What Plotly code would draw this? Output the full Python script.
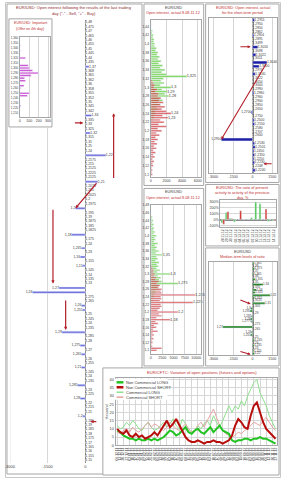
import plotly.graph_objects as go

W, H = 282, 480
FONT = "Liberation Sans"
GRID = "#d6d6d6"
FRAME = "#a6a6a6"
TXT = "#3c3c3c"
RED_T = "#c0302f"
ARROW = "#b3202b"

# ---------------- inset: important levels ----------------
INSET_LEVELS = ["1,360", "1,355", "1,350", "1,345", "1,340", "1,335", "1,330", "1,325",
                "1,320", "1,315", "1,310", "1,305", "1,300", "1,295", "1,290", "1,285",
                "1,280", "1,275", "1,270", "1,265", "1,260", "1,255", "1,250", "1,245",
                "1,240", "1,235", "1,230", "1,225", "1,220", "1,215", "1,210", "1,205"]
INSET_VALUES = [0, 0, 0, 5, 0, 5, 0, 0, 60, 0,
                0, 90, 100, 135, 195, 120, 50, 60, 0, 45,
                8, 0, 100, 80, 0, 0, 0, 10, 0, 0,
                0, 0]
INSET_TICKS = [0, 100, 200, 300]

# ---------------- main: open interest after last day ----------------
MAIN_LEVELS = ["1,48", "1,475", "1,47", "1,465", "1,46", "1,455", "1,45", "1,445", "1,44", "1,435",
               "1,37", "1,368", "1,365", "1,362", "1,36", "1,358", "1,355", "1,352", "1,35", "1,345",
               "1,342", "1,34", "1,335", "1,33", "1,325", "1,32", "1,315", "1,31", "1,25", "1,24",
               "1,22", "1,2175", "1,215", "1,2125", "1,2225", "1,2125", "1,21", "1,2075", "1,205", "1,2025",
               "1,2", "1,1975", "1,2", "1,195", "1,19", "1,1875", "1,185", "1,1825", "1,18", "1,175",
               "1,24", "1,235", "1,23", "1,16", "1,155", "1,15", "1,145", "1,14", "1,135", "1,13",
               "1,27", "1,26", "1,275", "1,265", "1,26", "1,255", "1,25", "1,245", "1,24", "1,235",
               "1,29", "1,285", "1,28", "1,275", "1,27", "1,265", "1,26", "1,255", "1,21", "1,245",
               "1,24", "1,235", "1,285", "1,23", "1,225", "1,28", "1,22", "1,215", "1,21", "1,2",
               "1,195", "1,19", "1,185", "1,18", "1,175", "1,17", "1,165", "1,16", "1,155", "1,15"]
MAIN_VALUES = [0, 0, 0, 0, 0, 0, 0, 0, 0, 0,
               150, 0, 0, 0, 0, 0, 0, 0, 0, 0,
               0, 250, 0, 0, 0, 200, 0, 0, 0, 0,
               820, 0, 0, 0, 0, 0, 500, 0, 0, 0,
               0, 0, -390, 0, 0, 0, 0, 0, -545, 0,
               0, -150, 0, -200, 0, -100, 0, 0, 0, 0,
               -1050, -2100, 0, 0, -150, -100, 0, 0, 0, 0,
               -930, 0, 0, -200, 0, -150, 0, 0, -150, 0,
               0, 0, -300, 0, 0, -200, 0, 0, 0, -100,
               0, 0, 0, 0, 0, 0, 0, 0, 0, 0]
MAIN_TICKS = [-3000, -1500, 0]
# arrows: (x_from, row_from, x_to, row_to)
MAIN_ARROWS = [(1130, 35.5, 1130, 20.5), (-470, 22.7, -80, 22.7), (500, 36, -390, 42),
               (-1285, 42, -1285, 59), (-780, 62.5, -780, 69.5), (500, 90.2, 200, 90.2)]

# ---------------- middle: option open interest ----------------
STRIKES = [1.450, 1.445, 1.440, 1.435, 1.430, 1.425, 1.420, 1.415, 1.410, 1.405,
           1.400, 1.395, 1.390, 1.385, 1.380, 1.375, 1.370, 1.365, 1.360, 1.355,
           1.350, 1.345, 1.340, 1.335, 1.330, 1.325, 1.320, 1.315, 1.310, 1.305,
           1.300, 1.295, 1.290, 1.285, 1.280, 1.275, 1.270, 1.265, 1.260, 1.255,
           1.250, 1.245, 1.240, 1.235, 1.230, 1.225, 1.220, 1.215, 1.210, 1.205,
           1.200, 1.195, 1.190, 1.185, 1.180, 1.175, 1.170, 1.165, 1.160, 1.155,
           1.150, 1.145, 1.140, 1.135, 1.130, 1.125, 1.120, 1.115, 1.110, 1.105,
           1.100]
CALLS_1 = [0, 0, 0, 0, 200, 150, 300, 250, 400, 350,
           500, 450, 700, 600, 900, 800, 1100, 900, 1300, 1000,
           1500, 1200, 1800, 1400, 2000, 4600, 1600, 1300, 1700, 1200,
           2600, 1400, 2100, 1800, 2300, 1100, 1500, 900, 1200, 700,
           900, 500, 600, 300, 400, 200, 100, 0, 100, 0,
           0, 0, 0, 0, 0, 0, 0, 0, 0, 0,
           0, 0, 0, 0, 0, 0, 0, 0, 0, 0,
           0]
PUTS_1 = [0, 0, 0, 0, 0, 0, 0, 0, 0, 0,
          0, 0, 0, 0, 0, 0, 0, 0, 0, 0,
          0, 0, 0, 0, 0, 0, 0, 200, 300, 500,
          400, 800, 600, 1000, 900, 1300, 1100, 1600, 1200, 1800,
          1400, 2000, 2600, 1500, 2200, 1200, 1700, 1000, 2000, 900,
          1400, 700, 1100, 600, 900, 500, 800, 400, 700, 300,
          600, 300, 500, 200, 400, 200, 300, 100, 200, 100,
          200]
CALLS_2 = [300, 200, 500, 300, 600, 400, 700, 500, 900, 600,
           1200, 800, 1000, 700, 1500, 900, 1300, 1000, 1700, 1100,
           2600, 1200, 1500, 1000, 1800, 1300, 1600, 1200, 2000, 1400,
           4300, 1500, 2200, 1800, 2400, 6000, 2000, 1400, 1700, 900,
           1100, 600, 700, 300, 400, 200, 100, 0, 100, 0,
           0, 0, 0, 0, 0, 0, 0, 0, 0, 0,
           0, 0, 0, 0, 0, 0, 0, 0, 0, 0,
           0]
PUTS_2 = [0, 0, 0, 0, 0, 0, 0, 0, 0, 0,
          0, 0, 0, 0, 0, 0, 0, 0, 0, 0,
          0, 0, 0, 0, 0, 0, 200, 400, 600, 500,
          900, 700, 1200, 1000, 1800, 1400, 2000, 1700, 2400, 2200,
          2400, 9800, 2200, 2300, 2000, 9300, 2200, 2400, 2000, 1500,
          6000, 1800, 2400, 1200, 4300, 1000, 1600, 700, 1200, 500,
          1500, 400, 700, 300, 600, 200, 400, 150, 300, 2400,
          1300]
MID1_TICKS = [1.10, 1.12, 1.14, 1.16, 1.18, 1.20, 1.22, 1.24, 1.26, 1.28,
              1.30, 1.32, 1.34, 1.36, 1.38, 1.40, 1.42, 1.44]
MID2_TICKS = [1.10, 1.12, 1.14, 1.16, 1.18, 1.20, 1.22, 1.24, 1.26, 1.28,
              1.30, 1.32, 1.34, 1.36, 1.38, 1.40, 1.42, 1.44, 1.46, 1.48]
MID1_XTICKS = [0, 2000, 4000, 6000]
MID2_XTICKS = [0, 2500, 5000, 7500, 10000]

# ---------------- right 1: short-term open interest ----------------
R1_LEVELS = ["1,2951", "1,2950", "1,2850", "1,2862", "1,2904", "1,2895", "1,3499", "1,3016", "1,3098", "1,3022",
             "1,3011", "1,3040", "1,3000", "1,2974", "1,3140", "1,3122", "1,3050", "1,3000", "1,2990", "1,2980",
             "1,2960", "1,2900", "1,2850", "1,2650", "1,2700", "1,2750", "1,2500", "1,2550", "1,2580", "1,2707",
             "1,2600", "1,2950", "1,2530", "1,2501", "1,2450", "1,2350", "1,2250", "1,2230", "1,2248", "1,2240"]
R1_VALUES = [150, 0, 0, 0, 100, 0, 0, 400, 0, 250,
             0, 1100, 500, 0, 200, 0, 0, 0, 0, 100,
             0, 0, 0, 0, -100, 0, 120, 150, 0, 0,
             0, -2400, 150, 200, 100, 150, 100, 150, 0, 200]
R_XTICKS = [-3000, -1500, 0, 1500]
R1_ARROWS = [(1100, 11, -2400, 31), (-1050, 6.9, -150, 6.9), (1575, 37.3, 825, 37.3)]

# ---------------- right 2: activity ratio ----------------
R2_DATES = ["28.11.12", "29.11.12", "30.11.12", "03.12.12", "04.12.12", "05.12.12", "06.12.12",
            "07.12.12", "10.12.12", "11.12.12", "12.12.12", "13.12.12", "14.12.12"]
R2_CALLS = [-60, 120, 20, -40, 0, 0, 0, 30, 300, 270, 0, -30, -20]
R2_PUTS = [-80, 135, 15, 0, 150, 0, 0, 0, 0, 0, 180, 0, -15]
R2_YTICKS = [-100, 0, 100, 200, 300]

# ---------------- right 3: medium-term levels ----------------
R3_LEVELS = ["1,385", "1,38", "1,375", "1,37", "1,365", "1,36", "1,355", "1,35", "1,34", "1,335",
             "1,33", "1,325", "1,32", "1,315", "1,3125", "1,31", "1,305", "1,3", "1,295", "1,29",
             "1,285", "1,28", "1,2775", "1,275", "1,27", "1,265", "1,26", "1,255", "1,25", "1,245",
             "1,24", "1,235", "1,23", "1,225", "1,22"]
R3_VALUES = [100, 0, 150, 0, 100, 0, 200, 0, 800, 0,
             300, 200, 1350, 150, 0, 950, 0, -150, -200, 0,
             -100, -150, -100, 0, -2300, 0, -100, -150, 0, 150,
             0, 120, 0, 100, 150]
R3_ARROWS = [(-1050, 13.6, -150, 15.3), (-1050, 33.1, -150, 34.4)]

# ---------------- bottom: CFTC ----------------
CFTC_DATES = ["06.12.11", "13.12.11", "20.12.11", "27.12.11", "03.01.12", "10.01.12", "17.01.12", "24.01.12",
              "31.01.12", "07.02.12", "14.02.12", "21.02.12", "28.02.12", "06.03.12", "13.03.12", "20.03.12",
              "27.03.12", "03.04.12", "10.04.12", "17.04.12", "24.04.12", "01.05.12", "08.05.12", "15.05.12",
              "22.05.12", "29.05.12", "05.06.12", "12.06.12", "19.06.12", "26.06.12", "03.07.12", "10.07.12",
              "17.07.12", "24.07.12", "31.07.12", "07.08.12", "14.08.12", "21.08.12", "28.08.12", "04.09.12",
              "11.09.12", "18.09.12", "25.09.12", "02.10.12", "09.10.12", "16.10.12", "23.10.12", "30.10.12",
              "06.11.12", "13.11.12", "20.11.12", "27.11.12"]
NC_LONG = [9, 8, 6, 5, 4, 4, 3, 4, 3, 3, 4, 3, 4, 3, 4,
           5, 7, 9, 8, 6, 7, 9, 11,
           8, 7, 9, 10, 8, 7, 9, 11, 8, 10, 12, 9, 8, 7,
           3, 2, 3, 3, 4, 4, 3, 4, 4, 5, 4, 4, 3, 2, 1]
NC_SHORT = [10, 8, 7, 9, 6, 5, 7, 5, 6, 4, 5, 6, 8, 6, 9,
            12, 15, 11, 13, 16, 12, 8, 5,
            3, 2, 2, 3, 2, 1, 2, 2, 3, 2, 2, 1, 2, 3,
            6, 12, 16, 14, 11, 10, 18, 24, 26, 20, 14, 10, 8, 6, 4]
C_LONG = [12, 10, 11, 14, 12, 15, 13, 10, 9, 12, 14, 11, 9, 10, 12,
          14, 11, 13, 16, 12, 10, 16, 13,
          10, 8, 9, 12, 10, 13, 15, 12, 18, 14, 11, 15, 20, 24,
          20, 24, 22, 27, 24, 30, 34, 38, 40, 32, 28, 24, 18, 14, 10]
C_SHORT = [8, 7, 9, 10, 8, 11, 9, 8, 10, 12, 14, 11, 13, 12, 10,
           9, 11, 14, 12, 10, 9, 11, 13,
           10, 8, 9, 12, 14, 11, 15, 19, 22, 17, 12, 9, 7, 6,
           5, 6, 8, 7, 9, 10, 12, 14, 13, 12, 15, 17, 14, 11, 9]
CFTC_YTICKS = [0, 5, 10, 15, 20, 25, 30, 35, 40]
CFTC_SERIES = [("Commercial LONG", C_LONG, "#8fe08f", 1.0),
               ("Commercial SHORT", C_SHORT, "#e3a3a3", 1.0),
               ("Non Commercial LONG", NC_LONG, "#22c322", 2.0),
               ("Non Commercial SHORT", NC_SHORT, "#b80d0d", 2.0)]
LEGEND_ORDER = ["Non Commercial LONG", "Non Commercial SHORT", "Commercial LONG", "Commercial SHORT"]


def fmt(v):
    return ("%g" % v).replace(".", ",")


def px_x(a, b):
    return [a / W, b / W]


def px_y(top, bottom):
    return [1 - bottom / H, 1 - top / H]


fig = go.Figure()
shapes = []
annotations = []


def frame(x0, y0, x1, y1, color=FRAME):
    shapes.append(dict(type="rect", xref="paper", yref="paper", x0=x0 / W, x1=x1 / W,
                       y0=1 - y1 / H, y1=1 - y0 / H, line=dict(color=color, width=1),
                       fillcolor="white", layer="below"))


def note(text, x, y, size=4.2, color=TXT, xanchor="center", angle=0):
    annotations.append(dict(text=text, x=x / W, y=1 - y / H, xref="paper", yref="paper",
                            showarrow=False, xanchor=xanchor, yanchor="middle",
                            textangle=angle, font=dict(size=size, color=color, family=FONT)))


def labels(xs, ys, texts, xa, ya, size):
    pos = ["middle left" if v < 0 else "middle right" for v in xs]
    fig.add_trace(go.Scatter(x=xs, y=ys, mode="text", text=texts, textposition=pos,
                             textfont=dict(size=size, color=TXT, family=FONT),
                             xaxis=xa, yaxis=ya, cliponaxis=False, hoverinfo="skip"))


def arrows(items, xa, ya, width=1.0):
    for x0, y0, x1, y1 in items:
        annotations.append(dict(x=x1, y=y1, ax=x0, ay=y0, xref=xa, yref=ya, axref=xa, ayref=ya,
                                text="", showarrow=True, arrowhead=2, arrowsize=0.55,
                                arrowwidth=width, arrowcolor=ARROW, standoff=0, startstandoff=0))


def xaxis(dom, rng, anchor, tv, tt, box=True, grid=True, size=4, **kw):
    d = dict(domain=px_x(*dom), range=rng, anchor=anchor, tickmode="array", tickvals=tv,
             ticktext=tt, showgrid=grid, gridcolor=GRID, gridwidth=1, zeroline=False,
             showline=box, mirror=box, linecolor=FRAME, linewidth=1, ticks="",
             ticklen=0, tickfont=dict(size=size, color=TXT, family=FONT), fixedrange=True)
    d.update(kw)
    return d


def yaxis(dom, rng, anchor, tv=None, tt=None, box=True, grid=False, size=3.5, show=True, **kw):
    d = dict(domain=px_y(*dom), range=rng, anchor=anchor, showgrid=grid, gridcolor=GRID,
             zeroline=False, showline=box, mirror=box, linecolor=FRAME, linewidth=1,
             ticks="", ticklen=0, showticklabels=show,
             tickfont=dict(size=size, color=TXT, family=FONT), fixedrange=True)
    if tv is not None:
        d.update(tickmode="array", tickvals=tv, ticktext=tt)
    d.update(kw)
    return d


# ---------- panel frames ----------
frame(0.5, 0.5, 281.5, 479.5, "#c8c8c8")
frame(2, 2, 140, 476)
frame(4, 17, 48, 126)
frame(142, 2, 203, 185)
frame(142, 188, 203, 367)
frame(205, 2, 280, 182)
frame(205, 184, 280, 246)
frame(205, 248, 280, 367)
frame(100, 369, 280, 477)

# ---------- inset ----------
fig.add_trace(go.Bar(x=INSET_VALUES, y=INSET_LEVELS, orientation="h", marker_color="#cc2fcc",
                     width=0.6, xaxis="x", yaxis="y", hoverinfo="skip"))
ax1 = xaxis((15, 46), [0, 320], "y", INSET_TICKS, [str(v) for v in INSET_TICKS], size=3.6)
ay1 = yaxis((35, 116), None, "x", size=2.9, type="category", autorange="reversed")

# ---------- main ----------
rows = list(range(len(MAIN_LEVELS)))
fig.add_trace(go.Bar(x=MAIN_VALUES, y=rows, orientation="h", marker_color="#6c6cdc",
                     width=0.45, xaxis="x2", yaxis="y2", hoverinfo="skip"))
labels(MAIN_VALUES, rows, MAIN_LEVELS, "x2", "y2", 3.5)
ax2 = xaxis((5, 140), [-3000, 2260], "y2", MAIN_TICKS, [str(v) for v in MAIN_TICKS],
            box=False, grid=False, zeroline=True, zerolinecolor="#8a8a8a", zerolinewidth=1)
ay2 = yaxis((18, 465), [len(MAIN_LEVELS) - 0.4, -0.6], "x2", box=False, show=False)
for v in MAIN_TICKS[:-1]:
    shapes.append(dict(type="line", xref="x2", yref="paper", x0=v, x1=v,
                       y0=1 - 465 / H, y1=1 - 127 / H, line=dict(color=GRID, width=1), layer="below"))
arrows(MAIN_ARROWS, "x2", "y2", 1.2)

# ---------- middle panels ----------
for (calls, puts, xa, ya, ydom, yr, ticks, xt, xr, thr) in [
        (CALLS_1, PUTS_1, "x3", "y3", (18, 176), [1.095, 1.455], MID1_TICKS, MID1_XTICKS, [0, 6400], 2100),
        (CALLS_2, PUTS_2, "x4", "y4", (205, 355), [1.09, 1.48], MID2_TICKS, MID2_XTICKS, [0, 11000], 2500)]:
    fig.add_trace(go.Bar(x=calls, y=STRIKES, orientation="h", marker_color="#5fcf35", opacity=0.85,
                         width=0.0038, xaxis=xa, yaxis=ya, hoverinfo="skip"))
    fig.add_trace(go.Bar(x=puts, y=STRIKES, orientation="h", marker_color="#d01f1f", opacity=0.75,
                         width=0.0038, xaxis=xa, yaxis=ya, hoverinfo="skip"))
    big = [(v, s) for v, s in zip(calls, STRIKES) if v >= thr] + \
          [(v, s) for v, s in zip(puts, STRIKES) if v >= thr]
    labels([b[0] for b in big], [b[1] for b in big], [fmt(b[1]) for b in big], xa, ya, 3.8)
    n = xa[1:]
    fig.layout["xaxis" + n] = xaxis((149, 200), xr, ya, xt, [str(v) for v in xt], size=3.6)
    fig.layout["yaxis" + n] = yaxis(ydom, yr, xa, ticks, [fmt(t) for t in ticks], size=3.4)

# ---------- right 1 ----------
r1rows = list(range(len(R1_LEVELS)))
fig.add_trace(go.Bar(x=R1_VALUES, y=r1rows, orientation="h", marker_color="#1f1fa6",
                     width=0.75, xaxis="x5", yaxis="y5", hoverinfo="skip"))
labels(R1_VALUES, r1rows, R1_LEVELS, "x5", "y5", 3.3)
ax5 = xaxis((208, 278), [-3375, 1875], "y5", R_XTICKS, [str(v) for v in R_XTICKS], size=3.6,
            zeroline=True, zerolinecolor="#8a8a8a")
ay5 = yaxis((16, 172), [len(R1_LEVELS) - 0.4, -0.6], "x5", show=False)
arrows(R1_ARROWS, "x5", "y5", 1.1)

# ---------- right 2 ----------
cats = list(range(len(R2_DATES)))
fig.add_trace(go.Bar(x=cats, y=R2_CALLS, marker_color="#3cc43c", width=0.42, offset=-0.42,
                     xaxis="x6", yaxis="y6", hoverinfo="skip"))
fig.add_trace(go.Bar(x=cats, y=R2_PUTS, marker_color="#d2281e", width=0.42, offset=0.0,
                     xaxis="x6", yaxis="y6", hoverinfo="skip"))
ax6 = xaxis((220, 277), [-0.6, len(R2_DATES) - 0.4], "y6", cats, R2_DATES, grid=False,
            size=3.3, tickangle=-90)
ay6 = yaxis((200, 227), [-130, 330], "x6", R2_YTICKS, ["%d%%" % v for v in R2_YTICKS],
            grid=True, size=3.6, zeroline=True, zerolinecolor="#8a8a8a")

# ---------- right 3 ----------
r3rows = list(range(len(R3_LEVELS)))
fig.add_trace(go.Bar(x=R3_VALUES, y=r3rows, orientation="h", marker_color="#1d7f1d",
                     width=0.75, xaxis="x7", yaxis="y7", hoverinfo="skip"))
labels(R3_VALUES, r3rows, R3_LEVELS, "x7", "y7", 3.0)
ax7 = xaxis((208, 278), [-3375, 1875], "y7", R_XTICKS, [str(v) for v in R_XTICKS], size=3.6,
            zeroline=True, zerolinecolor="#8a8a8a")
ay7 = yaxis((262, 356), [len(R3_LEVELS) - 0.4, -0.6], "x7", show=False)
arrows(R3_ARROWS, "x7", "y7", 1.1)

# ---------- bottom CFTC ----------
weeks = list(range(len(CFTC_DATES)))
for name, vals, color, lw in CFTC_SERIES:
    fig.add_trace(go.Scatter(x=weeks, y=vals, mode="lines", name=name,
                             line=dict(color=color, width=lw), xaxis="x8", yaxis="y8",
                             hoverinfo="skip"))
ax8 = xaxis((113, 278), [-0.5, len(CFTC_DATES) - 0.5], "y8", weeks, CFTC_DATES, grid=False,
            size=3.4, tickangle=-90,
            minor=dict(tick0=0, dtick=2, showgrid=True, gridcolor=GRID, gridwidth=1, ticklen=0))
ay8 = yaxis((379, 447), [0, 41], "x8", CFTC_YTICKS, [str(v) for v in CFTC_YTICKS],
            grid=True, size=3.8)

# custom legend
shapes.append(dict(type="rect", xref="paper", yref="paper", x0=112 / W, x1=166 / W,
                   y0=1 - 401 / H, y1=1 - 380 / H, line=dict(width=0), fillcolor="white",
                   layer="above"))
style = {n: (c, w) for n, _, c, w in CFTC_SERIES}
for k, name in enumerate(LEGEND_ORDER):
    yy = 383.5 + 5 * k
    c, w = style[name]
    shapes.append(dict(type="line", xref="paper", yref="paper", x0=114 / W, x1=121 / W,
                       y0=1 - yy / H, y1=1 - yy / H, line=dict(color=c, width=w + 0.5),
                       layer="above"))
    note(name, 122, yy, 4.0, TXT, "left")

# ---------- titles ----------
note("EUR/USD: Open interest following the results of the last trading", 71, 6, 4.1, "#8e2a2a")
note("day (\"-\" - Sell, \"+\" - Buy)", 71, 12, 4.1, "#8e2a2a")
note("EUR/USD: Important", 26, 21.5, 3.6, RED_T)
note("(Offer on 4th day)", 26, 27, 3.6, RED_T)
note("EUR/USD", 172, 6, 3.8, TXT)
note("Open interest, actual 8.08.11.12", 172, 11.5, 3.8, RED_T)
note("EUR/USD", 172, 192, 3.8, TXT)
note("Open interest, actual 8.08.11.12", 172, 197.5, 3.8, RED_T)
note("EUR/USD: Open interest, actual", 243, 6, 3.8, RED_T)
note("for the short-term period", 243, 11.5, 3.8, RED_T)
note("EUR/USD: The ratio of present", 243, 187.5, 3.8, RED_T)
note("activity to activity of the previous", 243, 192.5, 3.8, RED_T)
note("day, %", 243, 197.5, 3.8, RED_T)
note("EUR/USD", 243, 252, 3.8, TXT)
note("Median-term levels of ratio", 243, 257, 3.8, RED_T)
note("EUR/CFTC: Variation of open positions (futures and options)", 201, 373.5, 4.1, RED_T)
note("thousand", 104, 413, 3.6, TXT, angle=-90)

fig.update_layout(
    width=W, height=H, autosize=False, margin=dict(l=0, r=0, t=0, b=0, pad=0),
    paper_bgcolor="white", plot_bgcolor="rgba(0,0,0,0)", showlegend=False,
    barmode="overlay", font=dict(family=FONT, size=4, color=TXT),
    xaxis=ax1, yaxis=ay1, xaxis2=ax2, yaxis2=ay2, xaxis5=ax5, yaxis5=ay5,
    xaxis6=ax6, yaxis6=ay6, xaxis7=ax7, yaxis7=ay7, xaxis8=ax8, yaxis8=ay8,
    shapes=shapes, annotations=annotations,
)

fig.write_html("out.html")
